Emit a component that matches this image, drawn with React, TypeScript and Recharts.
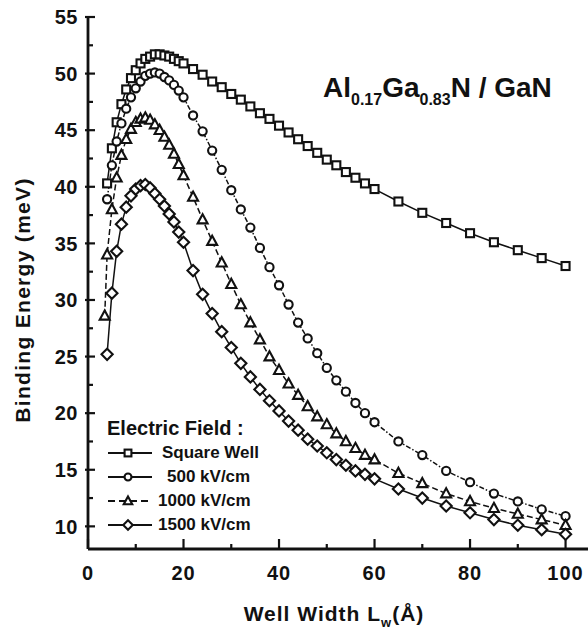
import React from "react";
import { LineChart, Line, XAxis, YAxis } from "recharts";

// well widths (Å) shared by the square well, 500 and 1500 kV/cm curves
const WIDTHS = [
  4, 5, 6, 7, 8, 9, 10, 11, 12, 13, 14, 15, 16, 17, 18, 19, 20,
  22, 24, 26, 28, 30, 32, 34, 36, 38, 40, 42, 44, 46, 48, 50, 52, 54, 56, 58, 60,
  65, 70, 75, 80, 85, 90, 95, 100,
];
// the 1000 kV/cm curve has one extra point at the narrow end
const WIDTHS_1000 = [
  3.5, 4, 5, 6, 7, 8, 9, 10, 11, 12, 13, 14, 15, 16, 17, 18, 19, 20,
  22, 24, 26, 28, 30, 32, 34, 36, 38, 40, 42, 44, 46, 48, 50, 52, 54, 56, 58, 60,
  65, 70, 75, 80, 85, 90, 95, 100,
];

const SQUARE_WELL = [
  40.3, 43.4, 45.7, 47.3, 48.6, 49.6, 50.3, 50.9, 51.3, 51.5, 51.7, 51.7, 51.6, 51.5, 51.3, 51.1, 50.9,
  50.4, 49.9, 49.3, 48.8, 48.2, 47.7, 47.1, 46.5, 46.0, 45.4, 44.8, 44.2, 43.6, 43.0, 42.4, 41.9, 41.3, 40.8, 40.3, 39.8,
  38.7, 37.7, 36.8, 35.9, 35.1, 34.4, 33.7, 33.0,
];
const FIELD_500 = [
  38.9, 41.9, 44.0, 45.6, 46.9, 47.9, 48.7, 49.3, 49.8, 50.0, 50.1, 50.0, 49.7, 49.4, 49.0, 48.5, 47.9,
  46.3, 44.9, 43.2, 41.5, 39.7, 38.0, 36.4, 34.6, 32.9, 31.3, 29.6, 28.0, 26.6, 25.3, 24.0, 22.9, 21.9, 20.9, 20.0, 19.2,
  17.5, 16.3, 14.9, 13.9, 12.9, 12.2, 11.5, 10.9,
];
const FIELD_1000 = [
  28.6, 34.0, 38.0, 40.8, 42.8, 44.2, 45.1, 45.7, 46.0, 46.1, 45.9, 45.5, 45.0, 44.4, 43.7, 42.9, 42.0, 41.0,
  39.1, 37.1, 35.2, 33.3, 31.4, 29.6, 28.0, 26.5, 25.0, 23.8, 22.6, 21.6, 20.6, 19.7, 19.0, 18.2, 17.5, 16.9, 16.3, 15.9,
  14.7, 13.8, 12.9, 12.2, 11.6, 11.1, 10.6, 10.1,
];
const FIELD_1500 = [
  25.2, 30.6, 34.3, 36.7, 38.2, 39.2, 39.8, 40.1, 40.2, 39.9, 39.4, 38.9, 38.3, 37.6, 36.9, 36.0, 35.1,
  32.6, 30.5, 28.8, 27.2, 25.8, 24.4, 23.2, 22.1, 21.1, 20.2, 19.3, 18.5, 17.7, 17.1, 16.5, 15.9, 15.4, 14.9, 14.6, 14.2,
  13.3, 12.5, 11.8, 11.2, 10.6, 10.1, 9.7, 9.3,
];

const X_TICKS = [0, 10, 20, 30, 40, 50, 60, 70, 80, 90, 100];
const Y_TICKS = [10, 12.5, 15, 17.5, 20, 22.5, 25, 27.5, 30, 32.5, 35, 37.5, 40, 42.5, 45, 47.5, 50, 52.5, 55];

const FONT = "'Liberation Sans', Arial, Helvetica, sans-serif";
const INK = "#111";

type Shape = "square" | "circle" | "triangle" | "diamond";

function marker(shape: Shape, cx: number, cy: number, k = 1) {
  const common = { fill: "#fff", stroke: INK, strokeWidth: 2.1 };
  if (shape === "square") return <rect x={cx - 4 * k} y={cy - 4 * k} width={8 * k} height={8 * k} {...common} />;
  if (shape === "circle") return <circle cx={cx} cy={cy} r={4.1 * k} {...common} />;
  if (shape === "triangle")
    return <path d={`M${cx},${cy - 5.4 * k}L${cx + 5 * k},${cy + 3.8 * k}L${cx - 5 * k},${cy + 3.8 * k}Z`} {...common} />;
  return <path d={`M${cx},${cy - 5.6 * k}L${cx + 5.6 * k},${cy}L${cx},${cy + 5.6 * k}L${cx - 5.6 * k},${cy}Z`} {...common} />;
}

const SERIES = [
  { name: "Square Well", xs: WIDTHS, ys: SQUARE_WELL, shape: "square" as Shape, dash: undefined, gap: 9 },
  { name: "500 kV/cm", xs: WIDTHS, ys: FIELD_500, shape: "circle" as Shape, dash: "5 2 1.5 2", gap: 14 },
  { name: "1000 kV/cm", xs: WIDTHS_1000, ys: FIELD_1000, shape: "triangle" as Shape, dash: "6 3", gap: 5 },
  { name: "1500 kV/cm", xs: WIDTHS, ys: FIELD_1500, shape: "diamond" as Shape, dash: undefined, gap: 5 },
];

const BOTTOM_MARGIN = 17;
const LEFT_MARGIN = 10;

function BottomTick(props: any) {
  const { x, y, payload } = props;
  const major = payload.value % 20 === 0;
  const ay = y - BOTTOM_MARGIN;
  return (
    <g>
      <line x1={x} x2={x} y1={ay} y2={ay - (major ? 10 : 5)} stroke={INK} strokeWidth={2.2} />
      {major && (
        <text x={x} y={y} dy="0.72em" textAnchor="middle" fontFamily={FONT} fontWeight={700} fontSize={20} letterSpacing={1} fill={INK}>
          {payload.value}
        </text>
      )}
    </g>
  );
}

function TopTick(props: any) {
  const { x, y, payload } = props;
  const major = payload.value % 20 === 0;
  return <line x1={x} x2={x} y1={y} y2={y + (major ? 8 : 4)} stroke={INK} strokeWidth={2.2} />;
}

function LeftTick(props: any) {
  const { x, y, payload } = props;
  const major = payload.value % 5 === 0;
  const ax = x + LEFT_MARGIN;
  return (
    <g>
      <line x1={ax - (major ? 3 : 0)} x2={ax + (major ? 7 : 5)} y1={y} y2={y} stroke={INK} strokeWidth={2.2} />
      {major && (
        <text x={x} y={y} dy="0.36em" textAnchor="end" fontFamily={FONT} fontWeight={700} fontSize={20} letterSpacing={0.5} fill={INK}>
          {payload.value}
        </text>
      )}
    </g>
  );
}

function RightTick(props: any) {
  const { x, y, payload } = props;
  const major = payload.value % 5 === 0;
  return <line x1={x} x2={x - (major ? 7 : 3)} y1={y} y2={y} stroke={INK} strokeWidth={2.2} />;
}

function XTitle(props: any) {
  const { x, y, width } = props.viewBox;
  return (
    <text x={x + width / 2 - 4} y={y + 72} textAnchor="middle" fontFamily={FONT} fontWeight={700} fontSize={21} letterSpacing={1} fill={INK}>
      Well Width L<tspan fontSize={13} dy={6}>w</tspan>
      <tspan dy={-6}>(Å)</tspan>
    </text>
  );
}

function YTitle(props: any) {
  const { y, height } = props.viewBox;
  const cx = 22;
  const cy = y + height / 2 + 17;
  return (
    <text
      x={cx}
      y={cy}
      transform={`rotate(-90 ${cx} ${cy})`}
      textAnchor="middle"
      dy="0.36em"
      fontFamily={FONT}
      fontWeight={700}
      fontSize={21}
      letterSpacing={1.3}
      fill={INK}
    >
      Binding Energy (meV)
    </text>
  );
}

function LegendBox() {
  return (
    <div style={{ position: "absolute", left: 107, top: 416, fontFamily: FONT, fontWeight: 700, color: INK }}>
      <div style={{ fontSize: 20, lineHeight: "24px", marginLeft: 0, marginBottom: 1 }}>Electric Field :</div>
      {SERIES.map((s) => (
        <div key={s.name} style={{ display: "flex", alignItems: "center", height: 24 }}>
          <svg width={46} height={16} style={{ display: "block" }}>
            <line x1={1} x2={45} y1={8} y2={8} stroke={INK} strokeWidth={2.2} strokeDasharray={s.name === "1000 kV/cm" ? "7 4" : undefined} />
            {marker(s.shape, 21, 8, 0.85)}
          </svg>
          <span style={{ fontSize: 17, marginLeft: s.gap }}>{s.name}</span>
        </div>
      ))}
    </div>
  );
}

export default function App() {
  return (
    <div style={{ position: "absolute", left: 0, top: 0, width: 588, height: 634, background: "#fff" }}>
      <LineChart width={588} height={634} margin={{ top: 17, right: 0, bottom: 0, left: 0 }}>
        <XAxis
          xAxisId="b"
          type="number"
          dataKey="x"
          domain={[0, 104.7]}
          allowDataOverflow
          ticks={X_TICKS}
          tickSize={0}
          tickMargin={BOTTOM_MARGIN}
          tickLine={false}
          tick={<BottomTick />}
          axisLine={{ stroke: INK, strokeWidth: 2.8 }}
          height={85}
          label={{ content: XTitle }}
        />
        <XAxis
          xAxisId="t"
          orientation="top"
          type="number"
          dataKey="x"
          domain={[0, 104.7]}
          allowDataOverflow
          ticks={X_TICKS}
          tickSize={0}
          tickMargin={0}
          tickLine={false}
          tick={<TopTick />}
          axisLine={{ stroke: INK, strokeWidth: 2.4 }}
          height={0}
        />
        <YAxis
          yAxisId="l"
          type="number"
          domain={[8, 55]}
          allowDataOverflow
          ticks={Y_TICKS}
          interval={0}
          tickSize={0}
          tickMargin={LEFT_MARGIN}
          tickLine={false}
          tick={<LeftTick />}
          axisLine={{ stroke: INK, strokeWidth: 2.8 }}
          width={88}
          label={{ content: YTitle }}
        />
        <YAxis
          yAxisId="r"
          orientation="right"
          type="number"
          domain={[8, 55]}
          allowDataOverflow
          ticks={Y_TICKS}
          interval={0}
          tickSize={0}
          tickMargin={0}
          tickLine={false}
          tick={<RightTick />}
          axisLine={false}
          width={0}
        />
        {SERIES.map((s) => (
          <Line
            key={s.name}
            xAxisId="b"
            yAxisId="l"
            data={s.xs.map((x, i) => ({ x, y: s.ys[i] }))}
            dataKey="y"
            type="linear"
            stroke={INK}
            strokeWidth={1.5}
            strokeDasharray={s.dash}
            dot={(p: any) => <g key={`${s.name}-${p.index}`}>{marker(s.shape, p.cx, p.cy)}</g>}
            activeDot={false}
            isAnimationActive={false}
          />
        ))}
      </LineChart>
      <svg width={588} height={634} style={{ position: "absolute", left: 0, top: 0, pointerEvents: "none" }}>
        <text x={323} y={97} fontFamily={FONT} fontWeight={700} fontSize={28} fill={INK}>
          Al<tspan fontSize={16} dy={8}>0.17</tspan>
          <tspan dy={-8}>Ga</tspan>
          <tspan fontSize={16} dy={8}>0.83</tspan>
          <tspan dy={-8}>N / GaN</tspan>
        </text>
      </svg>
      <LegendBox />
    </div>
  );
}
